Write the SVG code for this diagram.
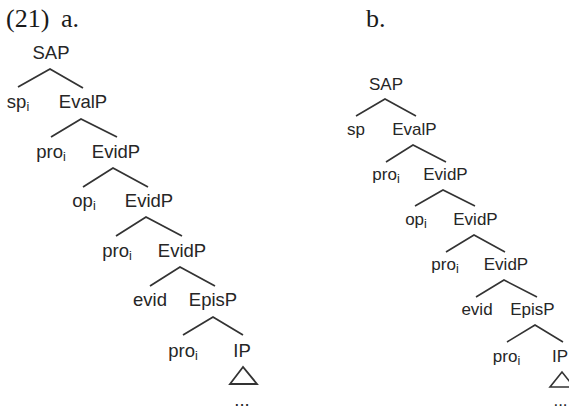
<svg xmlns="http://www.w3.org/2000/svg" width="569" height="410" viewBox="0 0 569 410">
  <style>
    .lbl { font-family: "Liberation Serif", "Times New Roman", serif; font-size: 26px; fill: #1a1a1a; }
    .na { font-family: "Liberation Sans", Arial, sans-serif; font-size: 18.5px; fill: #262626; text-anchor: middle; }
    .nb { font-family: "Liberation Sans", Arial, sans-serif; font-size: 17px; fill: #262626; text-anchor: middle; }
    .sub { font-size: 12.5px; }
    .br { fill: none; stroke: #333; stroke-width: 1.8; stroke-linecap: butt; stroke-linejoin: miter; }
    .bb { fill: none; stroke: #333; stroke-width: 1.6; }
  </style>

  <!-- example labels -->
  <text class="lbl" x="6" y="27">(21)<tspan x="61">a.</tspan></text>
  <text class="lbl" x="366" y="27">b.</text>

  <!-- tree (a) -->
  <g id="tree-a">
    <g id="connectors-a">
      <path class="br" d="M18,87 L50,69 L83,88"/>
      <path class="br" d="M51,137 L81,119 L117,137"/>
      <path class="br" d="M83,187 L113,168 L148,187"/>
      <path class="br" d="M116,236 L146,217 L182,236"/>
      <path class="br" d="M150,286 L180,267 L215,286"/>
      <path class="br" d="M183,335 L213,317 L243,335"/>
      <polygon class="br" points="243,367 230,384 257,384"/>
    </g>
    <g id="a-sap"><text class="na" x="51" y="59">SAP</text></g>
    <g id="a-sp"><text class="na" x="18" y="108">sp<tspan class="sub" dy="3">i</tspan></text></g>
    <g id="a-evalp"><text class="na" x="83" y="108">EvalP</text></g>
    <g id="a-pro1"><text class="na" x="51" y="158">pro<tspan class="sub" dy="3">i</tspan></text></g>
    <g id="a-evidp1"><text class="na" x="116" y="158">EvidP</text></g>
    <g id="a-op"><text class="na" x="84" y="207">op<tspan class="sub" dy="3">i</tspan></text></g>
    <g id="a-evidp2"><text class="na" x="149" y="207">EvidP</text></g>
    <g id="a-pro2"><text class="na" x="117" y="257">pro<tspan class="sub" dy="3">i</tspan></text></g>
    <g id="a-evidp3"><text class="na" x="182" y="257">EvidP</text></g>
    <g id="a-evid"><text class="na" x="150" y="306">evid</text></g>
    <g id="a-episp"><text class="na" x="213" y="306">EpisP</text></g>
    <g id="a-pro3"><text class="na" x="183" y="357">pro<tspan class="sub" dy="3">i</tspan></text></g>
    <g id="a-ip"><text class="na" x="242" y="357">IP</text></g>
    <g id="a-dots"><text class="na" x="242" y="406">...</text></g>
  </g>

  <!-- tree (b) -->
  <g id="tree-b">
    <g id="connectors-b">
      <path class="bb" d="M356,116 L385,99 L416,116"/>
      <path class="bb" d="M386,162 L413,145 L446,162"/>
      <path class="bb" d="M415,206 L443,190 L475,206"/>
      <path class="bb" d="M446,252 L474,235 L505,252"/>
      <path class="bb" d="M476,297 L504,280 L537,297"/>
      <path class="bb" d="M507,342 L535,325 L563,342"/>
      <polygon class="bb" points="562,372 550,387 574,387"/>
    </g>
    <g id="b-sap"><text class="nb" x="386" y="90">SAP</text></g>
    <g id="b-sp"><text class="nb" x="356" y="135">sp</text></g>
    <g id="b-evalp"><text class="nb" x="414.5" y="135">EvalP</text></g>
    <g id="b-pro1"><text class="nb" x="386" y="180">pro<tspan class="sub" dy="3">i</tspan></text></g>
    <g id="b-evidp1"><text class="nb" x="445.5" y="180">EvidP</text></g>
    <g id="b-op"><text class="nb" x="416" y="225">op<tspan class="sub" dy="3">i</tspan></text></g>
    <g id="b-evidp2"><text class="nb" x="475.5" y="225">EvidP</text></g>
    <g id="b-pro2"><text class="nb" x="445" y="270">pro<tspan class="sub" dy="3">i</tspan></text></g>
    <g id="b-evidp3"><text class="nb" x="506" y="270">EvidP</text></g>
    <g id="b-evid"><text class="nb" x="477" y="315">evid</text></g>
    <g id="b-episp"><text class="nb" x="532.5" y="315">EpisP</text></g>
    <g id="b-pro3"><text class="nb" x="506.5" y="362">pro<tspan class="sub" dy="3">i</tspan></text></g>
    <g id="b-ip"><text class="nb" x="560" y="362">IP</text></g>
    <g id="b-dots"><text class="nb" x="560.5" y="406">...</text></g>
  </g>
</svg>
